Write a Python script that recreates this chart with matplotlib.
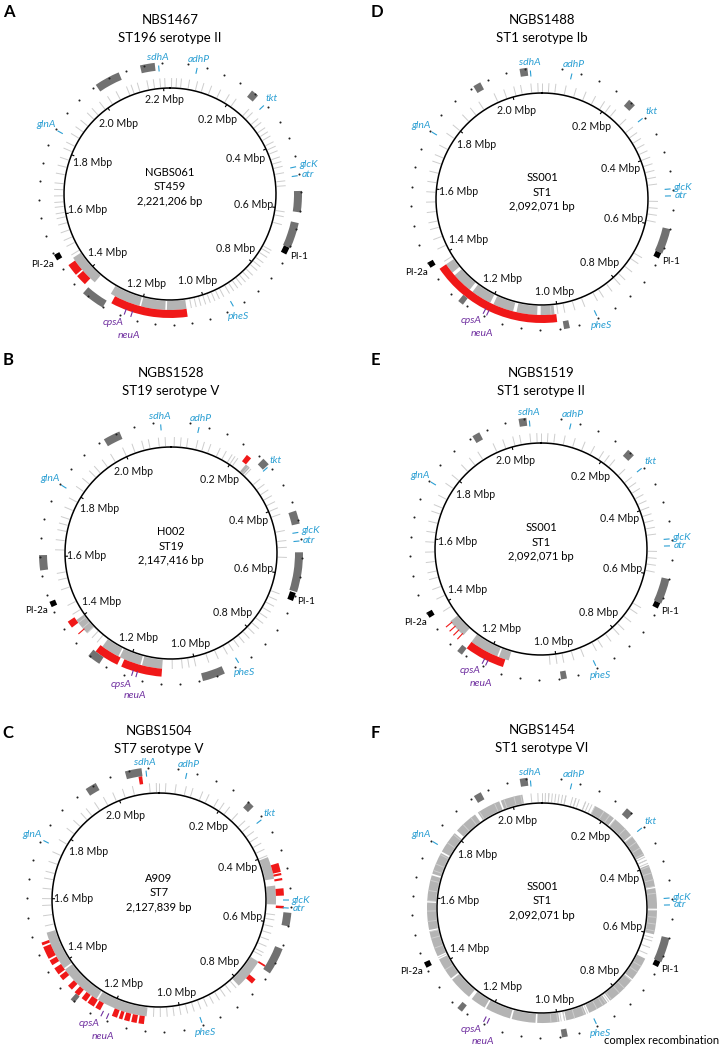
import numpy as np
import matplotlib
matplotlib.use("Agg")
import matplotlib.pyplot as plt

plt.rcParams['font.family'] = ['Lato', 'DejaVu Sans']

# ---------------- data ----------------
GENES = ['sdhA', 'adhP', 'tkt', 'glcK', 'atr', 'pheS', 'glnA', 'cpsA', 'neuA']
# gene positions (Mbp) on each reference genome
genes_NGBS061 = [2.19, 0.075, 0.288, 0.480, 0.505, 0.929, 1.847, 1.239, 1.220]
genes_H002 = [2.120, 0.075, 0.289, 0.482, 0.505, 0.885, 1.800, 1.180, 1.168]
genes_A909 = [2.094, 0.073, 0.307, 0.532, 0.553, 0.950, 1.757, 1.221, 1.205]
genes_SS001 = [2.062, 0.078, 0.298, 0.497, 0.515, 0.900, 1.751, 1.204, 1.194]

# Panel A : NBS1467 vs NGBS061
A_ticks = [0.005, 0.02, 0.035, 0.06, 0.085, 0.105, 0.13, 0.16, 0.19, 0.215, 0.265, 0.28,
           0.305, 0.32, 0.34, 0.355, 0.37, 0.39, 0.405, 0.42, 0.44, 0.455, 0.47, 0.49, 0.515,
           0.53, 0.61, 0.625, 0.65, 0.735, 0.745, 0.76, 0.78, 0.795, 0.81, 0.83, 0.845, 0.86,
           0.875, 0.89, 0.905, 0.92, 0.94, 0.955, 0.97, 0.985, 1.0, 1.015, 1.03, 1.045, 1.47,
           1.5, 1.52, 1.545, 1.57, 1.59, 1.605, 1.625, 1.64, 1.66, 1.68, 1.7, 1.73, 1.755,
           1.78, 1.81, 1.83, 1.86, 1.885, 1.91, 1.94, 1.96, 1.99, 2.02, 2.05, 2.085, 2.1,
           2.12, 2.15, 2.17, 2.19, 2.205]
A_bands = [(1.06, 1.12), (1.125, 1.20), (1.205, 1.30), (1.36, 1.46)]
A_red = [(1.06, 1.285), (1.378, 1.41), (1.415, 1.45)]
A_red_lines = []
A_dark = [(2.14, 2.18), (2.01, 2.08), (0.237, 0.258), (0.547, 0.605), (0.634, 0.705), (1.30, 1.365)]
A_black = [(0.705, 0.725), (1.478, 1.495)]
A_black_names = ['PI-1', 'PI-2a']

# Panel B : NGBS1528 vs H002
B_ticks = [0.01, 0.03, 0.05, 0.08, 0.1, 0.12, 0.15, 0.17, 0.19, 0.2, 0.21, 0.25, 0.26, 0.3,
           0.32, 0.34, 0.36, 0.38, 0.4, 0.42, 0.47, 0.5, 0.52, 0.55, 0.66, 0.68, 0.7, 0.72,
           0.74, 0.76, 0.78, 0.8, 0.82, 0.84, 0.86, 0.88, 0.9, 0.93, 0.96, 1.0, 1.02, 1.04,
           1.07, 1.31, 1.33, 1.35, 1.37, 1.39, 1.42, 1.45, 1.5, 1.53, 1.55, 1.62, 1.65, 1.68,
           1.7, 1.72, 1.75, 1.78, 1.82, 1.85, 1.88, 1.9, 1.93, 1.96, 2.0, 2.03, 2.06, 2.08,
           2.11, 2.13]
B_bands = [(0.24, 0.255), (1.10, 1.16), (1.165, 1.23), (1.235, 1.29), (1.35, 1.40)]
B_red = [(0.225, 0.24), (1.10, 1.215), (1.227, 1.297), (1.39, 1.41)]
B_red_lines = [1.365]
B_dark = [(0.265, 0.285), (0.425, 0.46), (0.535, 0.64), (0.93, 0.99), (1.27, 1.305),
          (1.565, 1.605), (1.965, 2.01)]
B_black = [(0.643, 0.665), (1.465, 1.48)]
B_black_names = ['PI-1', 'PI-2a']

# Panel C : NGBS1504 vs A909
C_ticks = [0.0, 0.02, 0.05, 0.08, 0.1, 0.13, 0.15, 0.18, 0.2, 0.22, 0.25, 0.28, 0.3, 0.32,
           0.34, 0.36, 0.38, 0.4, 0.575, 0.59, 0.61, 0.63, 0.65, 0.67, 0.69, 0.7, 0.82, 0.84,
           0.86, 0.88, 0.9, 0.92, 0.94, 0.96, 0.98, 1.0, 1.02, 1.04, 1.06, 1.08, 1.52, 1.55,
           1.58, 1.6, 1.63, 1.66, 1.68, 1.71, 1.74, 1.78, 1.82, 1.85, 1.88, 1.9, 1.93, 1.96,
           1.99, 2.02, 2.05, 2.1, 2.12]
C_bands = [(0.405, 0.47), (0.49, 0.545), (0.72, 0.81), (1.10, 1.25), (1.255, 1.38), (1.385, 1.50)]
C_red = [(2.072, 2.082), (0.43, 0.455), (0.458, 0.464), (0.472, 0.478), (0.50, 0.52),
         (0.548, 0.555), (0.718, 0.723), (0.765, 0.78), (1.47, 1.478), (1.43, 1.465),
         (1.41, 1.425), (1.38, 1.40), (1.36, 1.375), (1.325, 1.34), (1.30, 1.315),
         (1.23, 1.245), (1.25, 1.27), (1.275, 1.29), (1.105, 1.12), (1.125, 1.14),
         (1.145, 1.16), (1.165, 1.175), (1.18, 1.195)]
C_red_lines = []
C_dark = [(2.04, 2.083), (1.93, 1.96), (0.25, 0.268), (0.565, 0.60), (0.66, 0.73), (1.297, 1.31)]
C_black = []
C_black_names = []

# Panels D, E, F : vs SS001
SS001_ticks = [0.0, 0.02, 0.04, 0.07, 0.1, 0.13, 0.16, 0.19, 0.21, 0.23, 0.27, 0.3, 0.32,
               0.34, 0.36, 0.38, 0.4, 0.42, 0.44, 0.46, 0.48, 0.53, 0.55, 0.57, 0.59, 0.7,
               0.72, 0.75, 0.78, 0.8, 0.83, 0.86, 0.88, 0.92, 0.95, 0.98, 1.0, 1.02, 1.38,
               1.42, 1.45, 1.48, 1.5, 1.53, 1.56, 1.59, 1.62, 1.65, 1.68, 1.7, 1.73, 1.77,
               1.8, 1.84, 1.87, 1.9, 1.95, 1.98, 2.01, 2.03, 2.06, 2.08]
D_bands = [(1.01, 1.05), (1.06, 1.12), (1.13, 1.19), (1.20, 1.26), (1.27, 1.33), (1.34, 1.37)]
D_red = [(1.005, 1.37)]
D_red_lines = []
D_dark = [(2.035, 2.055), (1.91, 1.93), (0.24, 0.26), (0.60, 0.665), (1.26, 1.275), (0.975, 0.99)]
D_black = [(0.665, 0.68), (1.385, 1.40)]
D_black_names = ['PI-1', 'PI-2a']

E_bands = [(1.14, 1.17), (1.175, 1.26), (1.29, 1.345)]
E_red = [(1.15, 1.26)]
E_red_lines = [1.295, 1.31, 1.325, 1.34]
E_dark = [(2.035, 2.055), (1.91, 1.93), (0.24, 0.26), (0.60, 0.665), (1.26, 1.275), (0.98, 0.995)]
E_black = [(0.665, 0.68), (1.385, 1.40)]
E_black_names = ['PI-1', 'PI-2a']

F_ticks = [0.0, 0.01, 0.02, 0.03, 0.05, 0.06, 0.07, 0.09, 0.1, 0.11, 0.13, 0.14, 0.15, 0.37,
           0.38, 0.39, 0.61, 0.62, 0.64, 0.66, 0.75, 0.84, 0.85, 0.91, 0.98, 0.99]
F_bands = [(0.16, 0.225), (0.23, 0.295), (0.30, 0.365), (0.395, 0.46), (0.465, 0.525),
           (0.53, 0.60), (0.675, 0.745), (0.75, 0.835), (0.845, 0.905), (0.915, 0.975),
           (0.995, 1.06), (1.065, 1.135), (1.14, 1.215), (1.22, 1.265), (1.275, 1.345),
           (1.35, 1.415), (1.425, 1.50), (1.505, 1.585), (1.59, 1.665), (1.67, 1.735),
           (1.74, 1.805), (1.815, 1.885), (1.895, 1.965), (1.97, 2.035)]
F_red = []
F_red_lines = []
F_dark = [(2.035, 2.055), (1.91, 1.93), (0.235, 0.255), (0.60, 0.665), (1.265, 1.28), (0.98, 0.995)]
F_black = [(0.665, 0.68), (1.41, 1.425)]
F_black_names = ['PI-1', 'PI-2a']

letters = ['A', 'B', 'C', 'D', 'E', 'F']
isolates = ['NBS1467', 'NGBS1528', 'NGBS1504', 'NGBS1488', 'NGBS1519', 'NGBS1454']
subtitles = ['ST196 serotype II', 'ST19 serotype V', 'ST7 serotype V',
             'ST1 serotype Ib', 'ST1 serotype II', 'ST1 serotype VI']
references = ['NGBS061', 'H002', 'A909', 'SS001', 'SS001', 'SS001']
ref_st = ['ST459', 'ST19', 'ST7', 'ST1', 'ST1', 'ST1']
ref_len_bp = [2221206, 2147416, 2127839, 2092071, 2092071, 2092071]

# ---------------- layout / style ----------------
W, H = 720, 1046
fig = plt.figure(figsize=(W / 100, H / 100), dpi=100)
fig.patch.set_facecolor('white')

BLUE = '#2b9fd3'
PURPLE = '#7030a0'
RED = '#f01818'
DGREY = '#717171'
LGREY = '#b4b4b4'
TGREY = '#cdcdcd'
RMAX = 170

# cx, cy, r, title_y, letter_xy
layout = [
    (170, 194, 106, 20, (9, 12)),
    (171, 553, 106, 373, (8, 360)),
    (159, 900, 107, 731, (8, 733)),
    (542, 199, 106, 20, (377, 12)),
    (541, 549, 106, 373, (375, 360)),
    (542, 908, 105, 730, (375, 733)),
]

panel_data = [
    (genes_NGBS061, A_ticks, A_bands, A_red, A_red_lines, A_dark, A_black, A_black_names),
    (genes_H002, B_ticks, B_bands, B_red, B_red_lines, B_dark, B_black, B_black_names),
    (genes_A909, C_ticks, C_bands, C_red, C_red_lines, C_dark, C_black, C_black_names),
    (genes_SS001, SS001_ticks, D_bands, D_red, D_red_lines, D_dark, D_black, D_black_names),
    (genes_SS001, SS001_ticks, E_bands, E_red, E_red_lines, E_dark, E_black, E_black_names),
    (genes_SS001, SS001_ticks + F_ticks, F_bands, F_red, F_red_lines, F_dark, F_black, F_black_names),
]


def fx(x):
    return x / W


def fy(y):
    return 1 - y / H


def off(th, w, h):
    return 0.5 * w * abs(np.sin(th)) + 0.5 * h * abs(np.cos(th))


for i in range(6):
    cx, cy, r, ty, (lx, ly) = layout[i]
    genes, ticks, bands, reds, red_lines, darks, blacks, black_names = panel_data[i]
    L = ref_len_bp[i] / 1e6
    to_th = lambda p: 2 * np.pi * np.asarray(p, dtype=float) / L

    ax = fig.add_axes([fx(cx - RMAX), fy(cy + RMAX), 2 * RMAX / W, 2 * RMAX / H],
                      projection='polar')
    ax.set_theta_zero_location('N')
    ax.set_theta_direction(-1)
    ax.set_ylim(0, RMAX)
    ax.set_axis_off()

    # light grey variant ticks
    ax.vlines(to_th(ticks), r + 1, r + 10, color=TGREY, lw=0.7)
    # light grey bands
    for s, e in bands:
        ax.bar(to_th(s), 9, width=to_th(e - s), bottom=r + 1, align='edge',
               color=LGREY, lw=0)
    # red recombination
    for s, e in reds:
        ax.bar(to_th(s), 8, width=to_th(e - s), bottom=r + 10, align='edge',
               color=RED, lw=0)
    if red_lines:
        ax.vlines(to_th(red_lines), r + 9, r + 17, color=RED, lw=0.8)
    # dark grey blocks
    for s, e in darks:
        ax.bar(to_th(s), 8, width=to_th(e - s), bottom=r + 18, align='edge',
               color=DGREY, lw=0)
    # black blocks (pilus islands)
    for (s, e), name in zip(blacks, black_names):
        ax.bar(to_th(s), 6, width=to_th(e - s), bottom=r + 19, align='edge',
               color='black', lw=0)
        th = to_th((s + e) / 2)
        w = len(name) * 4.8
        ax.text(th, r + 27 + off(th, w, 9), name, ha='center', va='center',
                fontsize=7, color='black')

    # scale dots
    dots = np.arange(0.05, L - 0.02, 0.05)
    ax.scatter(to_th(dots), np.full(len(dots), r + 25), s=2.2, color='#222222', lw=0)

    # main circle
    tt = np.linspace(0, 2 * np.pi, 500)
    ax.plot(tt, np.full_like(tt, r), color='black', lw=1.1)

    # Mbp ticks / labels
    majors = np.arange(0.2, L, 0.2)
    ax.vlines(to_th(majors), r - 3, r, color='black', lw=0.8)
    for m in majors:
        th = to_th(m)
        s = f'{m:.1f} Mbp'
        ax.text(th, r - 5 - off(th, 33, 10), s, ha='center', va='center',
                fontsize=7.6, color='#111111')

    # genes
    for g, p in zip(GENES, genes):
        th = to_th(p)
        col = PURPLE if g in ('cpsA', 'neuA') else BLUE
        ax.vlines(th, r + 17, r + 23, color=col, lw=0.8)
        if g == 'cpsA':
            ax.text(th + np.radians(3.0), r + 35, g, ha='center', va='center',
                    fontsize=7.5, style='italic', color=col)
        elif g == 'neuA':
            ax.text(th - np.radians(1.5), r + 41, g, ha='center', va='center',
                    fontsize=7.5, style='italic', color=col)
        else:
            w = len(g) * 5.0
            ax.text(th, r + 25 + off(th, w, 10), g, ha='center', va='center',
                    fontsize=7.5, style='italic', color=col)

    # texts
    fig.text(fx(cx), fy(ty), isolates[i], ha='center', va='center', fontsize=9.5)
    fig.text(fx(cx), fy(ty + 18), subtitles[i], ha='center', va='center', fontsize=9.5)
    fig.text(fx(lx), fy(ly), letters[i], ha='center', va='center', fontsize=12,
             fontweight='bold')
    fig.text(fx(cx), fy(cy - 7),
             f'{references[i]}\n{ref_st[i]}\n{ref_len_bp[i]:,} bp',
             ha='center', va='center', fontsize=8, linespacing=1.35)

fig.text(fx(662), fy(1041), 'complex recombination', ha='center', va='center', fontsize=8)

fig.savefig('out.png', dpi=100, facecolor='white')
